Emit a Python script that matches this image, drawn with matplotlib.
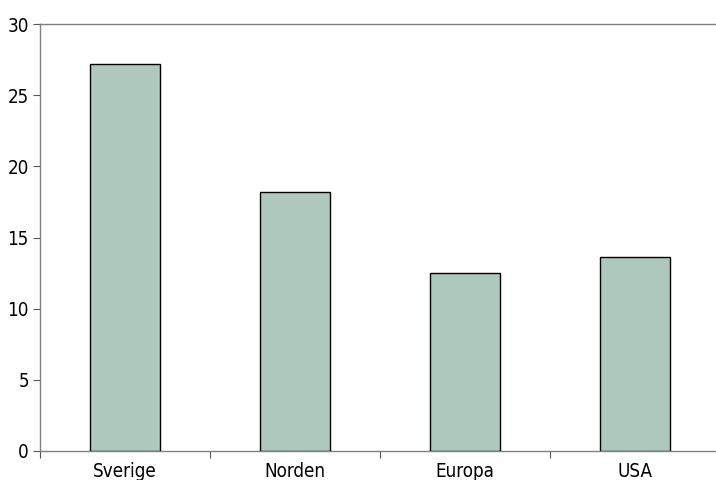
import matplotlib.pyplot as plt
import numpy as np
from matplotlib import font_manager

# Data
regioner = ["Sverige", "Norden", "Europa", "USA"]
varden = [27.2, 18.2, 12.5, 13.6]

names = {f.name for f in font_manager.fontManager.ttflist}
if "Liberation Sans Narrow" in names:
    plt.rcParams['font.family'] = ['Liberation Sans Narrow', 'DejaVu Sans']
else:
    plt.rcParams['font.family'] = ['DejaVu Sans']
    plt.rcParams['font.stretch'] = 'condensed'

fig = plt.figure(figsize=(7.16, 4.8), dpi=100)
ax = fig.add_axes([40 / 716, 1 - 451 / 480, 680 / 716, 427 / 480])

x = np.arange(len(regioner))
ax.bar(x, varden, width=0.41, color='#aec8bd', edgecolor='black', linewidth=1.0, zorder=3)

ax.set_xlim(-0.5, len(regioner) - 0.5)
ax.set_ylim(0, 30)
ax.set_yticks(range(0, 31, 5))

# category ticks at boundaries, labels at centres
ax.set_xticks(np.arange(-0.5, len(regioner), 1.0))
ax.set_xticklabels([])
ax.set_xticks(x, minor=True)
ax.set_xticklabels(regioner, minor=True)
ax.tick_params(axis='x', which='minor', length=0, pad=8, labelsize=13.5)
ax.tick_params(axis='x', which='major', direction='out', length=5, color='#555555')
ax.tick_params(axis='y', direction='out', length=5, color='#555555', labelsize=13.5, pad=3)

for side in ['left', 'bottom', 'top']:
    ax.spines[side].set_color('#808080')
    ax.spines[side].set_linewidth(1.0)
ax.spines['right'].set_visible(False)

fig.savefig("out.png", dpi=100, bbox_inches=None)
